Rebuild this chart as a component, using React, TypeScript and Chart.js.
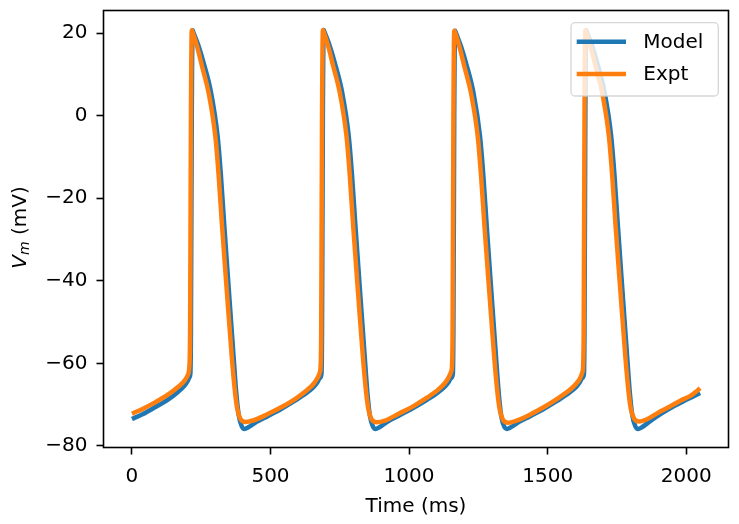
import React, { useEffect, useRef } from "react";
import { Chart, registerables } from "chart.js";

Chart.register(...registerables);

// ---- Data ----
const seriesLabels = ["Model", "Expt"];
const xLabel = "Time (ms)";

const exptTime = [
  0, 40, 85, 130, 165, 190, 202, 207, 210, 213, 216, 220, 235, 253, 277, 301, 313, 325, 343, 361, 372, 380, 392, 410, 440, 490, 540, 590, 630, 655, 670, 678, 681,
  683, 686, 689, 693, 708, 726, 750, 774, 786, 798, 816, 834, 845, 853, 865, 883, 913, 963, 1013, 1063, 1103, 1128, 1143, 1152, 1155,
  1157, 1160, 1163, 1167, 1182, 1200, 1224, 1248, 1260, 1272, 1290, 1308, 1319, 1327, 1339, 1357, 1387, 1437, 1487, 1537, 1577, 1602, 1617, 1625, 1628,
  1630, 1633, 1636, 1640, 1655, 1673, 1697, 1721, 1733, 1745, 1763, 1781, 1792, 1800, 1812, 1830, 1860, 1900, 1940, 1980, 2015, 2035, 2050,
];
const exptVm = [
  -72.2, -71.0, -69.4, -67.6, -65.8, -64.2, -62.8, -61.0, -52, 0, 20.7, 20.0, 16.8, 12.0, 5.5, -5.0, -14.5, -26.5, -43, -59, -67, -71, -73.5, -74.2, -73.8, -72.3, -70.6, -68.6, -66.6, -65.0, -63.5, -62.2, -60.5,
  -52, 0, 20.8, 20.1, 16.9, 12.1, 5.6, -4.8, -14.3, -26.4, -43, -59, -67, -71, -73.6, -74.3, -73.9, -72.2, -70.5, -68.4, -66.5, -64.9, -63.4, -62.0, -60.5,
  -52, 0, 20.6, 19.9, 16.7, 11.8, 5.3, -5.2, -14.8, -26.7, -43.2, -59.2, -67.2, -71.2, -73.7, -74.4, -73.9, -72.4, -70.6, -68.5, -66.6, -65.0, -63.6, -62.2, -60.6,
  -52, 0, 20.7, 20.0, 16.8, 12.0, 5.5, -5.0, -14.6, -26.6, -43, -59, -67, -71, -73.4, -74.1, -73.5, -71.9, -70.5, -69.0, -67.9, -66.9, -66.0,
];

const modelTime = [
  0, 40, 85, 130, 165, 190, 202, 208, 211, 213, 216, 219, 223, 240, 260, 285, 309, 321, 333, 350, 367, 377, 386, 396, 406, 420, 450, 490, 540, 590, 630, 655, 670, 678,
  684, 686, 689, 692, 696, 713, 733, 758, 782, 794, 806, 823, 840, 850, 859, 869, 879, 893, 923, 963, 1013, 1063, 1103, 1128, 1143, 1151,
  1158, 1160, 1163, 1166, 1170, 1187, 1207, 1232, 1256, 1268, 1280, 1297, 1314, 1324, 1333, 1343, 1353, 1367, 1397, 1437, 1487, 1537, 1577, 1602, 1617, 1624,
  1631, 1633, 1636, 1639, 1643, 1660, 1680, 1705, 1729, 1741, 1753, 1770, 1787, 1797, 1806, 1816, 1826, 1840, 1870, 1910, 1950, 1990, 2020, 2050,
];
const modelVm = [
  -73.5, -72.3, -70.6, -68.8, -67.0, -65.4, -64.2, -63.4, -62.5, -52, 0, 20.7, 20.0, 17.0, 12.5, 5.8, -4.8, -14.3, -26.3, -42.5, -58.5, -67.5, -72.8, -75.2, -75.9, -75.5, -74.2, -72.8, -71.0, -69.0, -67.2, -65.8, -64.5, -63.6,
  -62.6, -52, 0, 20.8, 20.1, 17.1, 12.6, 5.9, -4.7, -14.2, -26.2, -42.4, -58.4, -67.4, -72.8, -75.2, -75.9, -75.5, -74.1, -72.7, -70.9, -68.9, -67.1, -65.7, -64.5, -63.6,
  -62.6, -52, 0, 20.6, 19.9, 16.9, 12.4, 5.7, -5.0, -14.5, -26.5, -42.7, -58.7, -67.6, -72.9, -75.3, -75.9, -75.5, -74.2, -72.8, -71.0, -69.0, -67.2, -65.8, -64.5, -63.6,
  -62.6, -52, 0, 20.7, 20.0, 17.0, 12.5, 5.8, -4.8, -14.3, -26.3, -42.5, -58.5, -67.5, -72.8, -75.2, -75.9, -75.5, -74.0, -72.2, -70.6, -69.2, -68.2, -67.2,
];

const xTicks = [0, 500, 1000, 1500, 2000];
const yTicks = [-80, -60, -40, -20, 0, 20];
const xLimits = [-102.5, 2152.5];
const yLimits = [-80.4, 25.5];

const BLUE = "#1f77b4";
const ORANGE = "#ff7f0e";
const FONT = '"DejaVu Sans", "Liberation Sans", sans-serif';

const fmt = (v: number) => String(v).replace("-", "\u2212");

const decorPlugin = {
  id: "decor",
  afterDraw(chart: any) {
    const { ctx, chartArea: a } = chart;
    ctx.save();
    // frame
    ctx.strokeStyle = "#000";
    ctx.lineWidth = 1.6;
    ctx.strokeRect(a.left, a.top, a.right - a.left, a.bottom - a.top);

    // legend
    const bx = a.right - 157.5;
    const by = a.top + 12.2;
    const bw = 147.3;
    const bh = 73.3;
    ctx.beginPath();
    (ctx as any).roundRect(bx, by, bw, bh, 4);
    ctx.fillStyle = "rgba(255,255,255,0.8)";
    ctx.fill();
    ctx.strokeStyle = "rgba(204,204,204,0.8)";
    ctx.lineWidth = 1.3;
    ctx.stroke();
    const colors = [BLUE, ORANGE];
    const rowsY = [by + 19, by + 51.3];
    ctx.font = `20px ${FONT}`;
    ctx.textAlign = "left";
    ctx.textBaseline = "middle";
    seriesLabels.forEach((lab, i) => {
      ctx.beginPath();
      ctx.moveTo(bx + 5.7, rowsY[i]);
      ctx.lineTo(bx + 55, rowsY[i]);
      ctx.strokeStyle = colors[i];
      ctx.lineWidth = 4.5;
      ctx.lineCap = "butt";
      ctx.stroke();
      ctx.fillStyle = "#000";
      ctx.fillText(lab, bx + 72.3, rowsY[i] + 1);
    });

    // x label
    ctx.fillStyle = "#000";
    ctx.font = `20px ${FONT}`;
    ctx.textAlign = "center";
    ctx.textBaseline = "alphabetic";
    ctx.fillText(xLabel, (a.left + a.right) / 2, a.bottom + 64.2);

    // y label: V_m (mV)
    ctx.translate(25.5, (a.top + a.bottom) / 2 - 1.5);
    ctx.rotate(-Math.PI / 2);
    const big = `italic 20px ${FONT}`;
    const sub = `italic 14px ${FONT}`;
    const reg = `20px ${FONT}`;
    ctx.font = big;
    const wV = ctx.measureText("V").width;
    ctx.font = sub;
    const wm = ctx.measureText("m").width;
    ctx.font = reg;
    const wr = ctx.measureText(" (mV)").width;
    let x0 = -(wV + wm + wr) / 2;
    ctx.textAlign = "left";
    ctx.font = big;
    ctx.fillText("V", x0, 0);
    x0 += wV;
    ctx.font = sub;
    ctx.fillText("m", x0, 3);
    x0 += wm;
    ctx.font = reg;
    ctx.fillText(" (mV)", x0, 0);
    ctx.restore();
  },
};

export default function App() {
  const ref = useRef<HTMLCanvasElement>(null);
  useEffect(() => {
    document.body.style.margin = "0";
    const canvas = ref.current!;
    const chart = new Chart(canvas, {
      type: "line",
      data: {
        datasets: [
          {
            label: seriesLabels[0],
            data: modelTime.map((t, i) => ({ x: t, y: modelVm[i] })),
            borderColor: BLUE,
            backgroundColor: BLUE,
            borderWidth: 4.5,
            pointRadius: 0,
            borderJoinStyle: "round",
            cubicInterpolationMode: "monotone",
            fill: false,
            order: 1,
          },
          {
            label: seriesLabels[1],
            data: exptTime.map((t, i) => ({ x: t, y: exptVm[i] })),
            borderColor: ORANGE,
            backgroundColor: ORANGE,
            borderWidth: 4.5,
            pointRadius: 0,
            borderJoinStyle: "round",
            cubicInterpolationMode: "monotone",
            fill: false,
            order: 0,
          },
        ],
      },
      options: {
        responsive: false,
        animation: false,
        devicePixelRatio: 1,
        events: [],
        layout: { padding: { left: 0, top: 10.5, right: 10.5, bottom: 0 } },
        plugins: {
          legend: { display: false },
          tooltip: { enabled: false },
          title: { display: false },
        },
        scales: {
          x: {
            type: "linear",
            min: xLimits[0],
            max: xLimits[1],
            afterBuildTicks: (s: any) => {
              s.ticks = xTicks.map((v) => ({ value: v }));
            },
            afterFit: (s: any) => {
              s.height = 76.5;
              s.paddingLeft = 0;
              s.paddingRight = 0;
            },
            grid: {
              display: true,
              drawOnChartArea: false,
              drawTicks: true,
              tickLength: 7,
              tickWidth: 1.6,
              tickColor: "#000",
            },
            border: { display: false },
            ticks: {
              color: "#000",
              font: { family: FONT, size: 20 },
              padding: 10,
              maxRotation: 0,
              autoSkip: false,
              callback: (v: any) => fmt(Number(v)),
            },
          },
          y: {
            type: "linear",
            min: yLimits[0],
            max: yLimits[1],
            afterBuildTicks: (s: any) => {
              s.ticks = yTicks.map((v) => ({ value: v }));
            },
            afterFit: (s: any) => {
              s.width = 103.5;
              s.paddingTop = 0;
              s.paddingBottom = 0;
            },
            grid: {
              display: true,
              drawOnChartArea: false,
              drawTicks: true,
              tickLength: 7,
              tickWidth: 1.6,
              tickColor: "#000",
            },
            border: { display: false },
            ticks: {
              color: "#000",
              font: { family: FONT, size: 20 },
              padding: 9,
              autoSkip: false,
              callback: (v: any) => fmt(Number(v)),
            },
          },
        },
      },
      plugins: [decorPlugin],
    } as any);
    return () => chart.destroy();
  }, []);
  return (
    <div style={{ position: "absolute", left: 0, top: 0, width: 739, height: 524, background: "#fff" }}>
      <canvas ref={ref} width={739} height={524} style={{ display: "block", width: 739, height: 524 }} />
    </div>
  );
}
